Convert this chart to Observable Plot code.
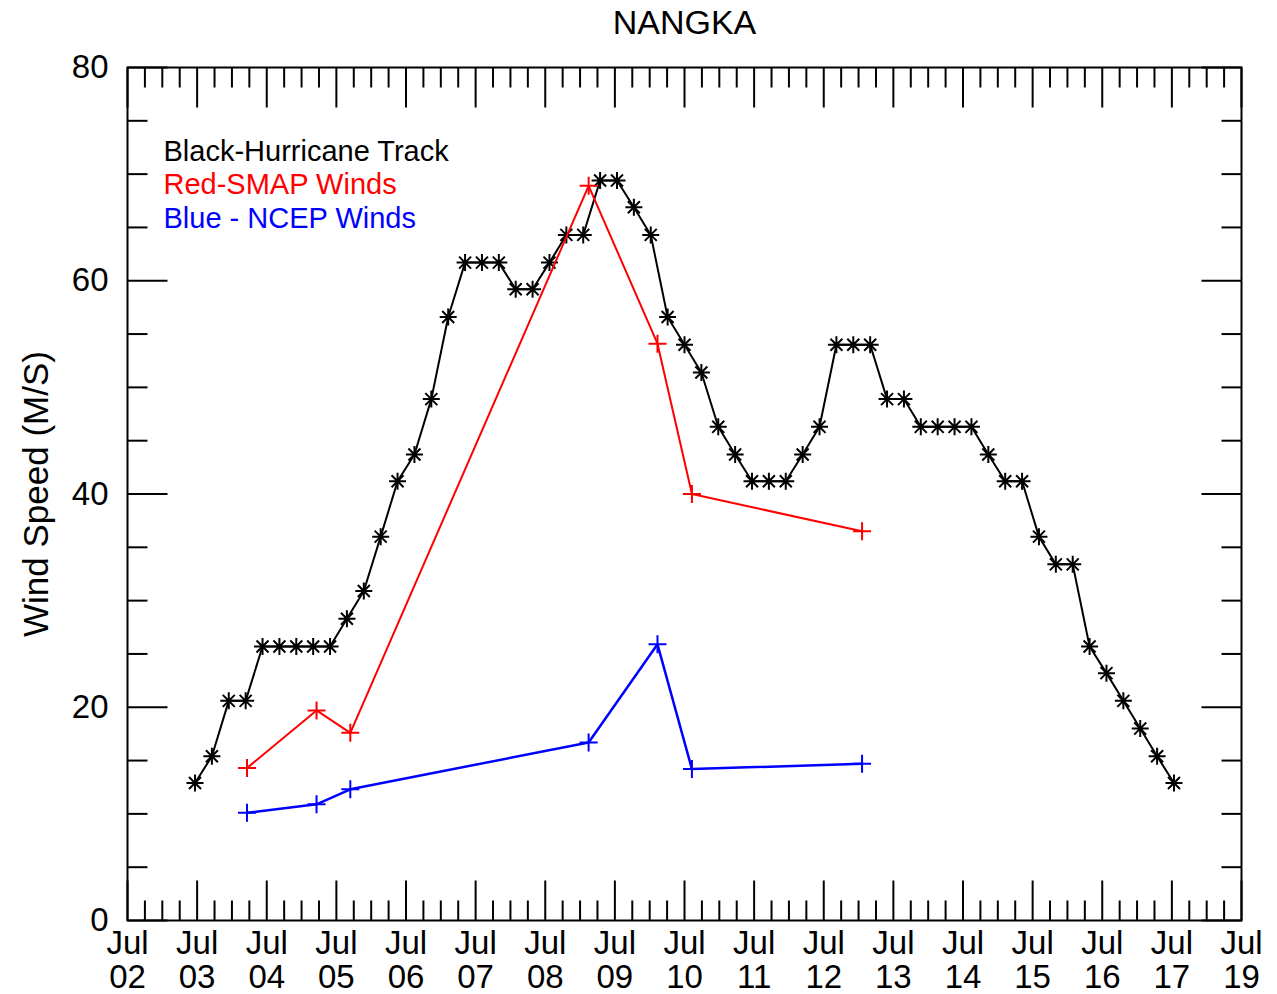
<!DOCTYPE html>
<html>
<head>
<meta charset="utf-8">
<script src="https://cdn.jsdelivr.net/npm/d3@7"></script>
<script src="https://cdn.jsdelivr.net/npm/@observablehq/plot@0.6"></script>
<style>
  html, body { margin: 0; padding: 0; background: #fff; }
  svg { display: block; }
</style>
</head>
<body>
<div id="chart"></div>
<script>
// ---------- chart text ----------
const title = "NANGKA";
const yLabel = "Wind Speed (M/S)";
const legendLabels = ["Black-Hurricane Track", "Red-SMAP Winds", "Blue - NCEP Winds"];
const legendColors = ["#000000", "#ff0000", "#0000ff"];

// ---------- axes ----------
// x = day of July (fractional, UTC); axis spans Jul 02 00Z .. Jul 18 12Z, 16 labelled intervals
const xDomain = [2, 18.5];
const xTickLabels = ["Jul\n02", "Jul\n03", "Jul\n04", "Jul\n05", "Jul\n06", "Jul\n07", "Jul\n08", "Jul\n09",
                     "Jul\n10", "Jul\n11", "Jul\n12", "Jul\n13", "Jul\n14", "Jul\n15", "Jul\n16", "Jul\n17", "Jul\n19"];
const yDomain = [0, 80];
const yTicks = [0, 20, 40, 60, 80];
const yMinorTicks = [5, 10, 15, 25, 30, 35, 45, 50, 55, 65, 70, 75];

// ---------- data ----------
// Hurricane best track (6-hourly), wind speed in m/s
const trackDays = [
  3.00, 3.25, 3.50, 3.75, 4.00, 4.25, 4.50, 4.75, 5.00, 5.25,
  5.50, 5.75, 6.00, 6.25, 6.50, 6.75, 7.00, 7.25, 7.50, 7.75,
  8.00, 8.25, 8.50, 8.75, 9.00, 9.25, 9.50, 9.75, 10.00, 10.25,
  10.50, 10.75, 11.00, 11.25, 11.50, 11.75, 12.00, 12.25, 12.50, 12.75,
  13.00, 13.25, 13.50, 13.75, 14.00, 14.25, 14.50, 14.75, 15.00, 15.25,
  15.50, 15.75, 16.00, 16.25, 16.50, 16.75, 17.00, 17.25, 17.50
];
const trackWind = [
  12.9, 15.4, 20.6, 20.6, 25.7, 25.7, 25.7, 25.7, 25.7, 28.3,
  30.9, 36.0, 41.2, 43.7, 48.9, 56.6, 61.7, 61.7, 61.7, 59.2,
  59.2, 61.7, 64.3, 64.3, 69.4, 69.4, 66.9, 64.3, 56.6, 54.0,
  51.4, 46.3, 43.7, 41.2, 41.2, 41.2, 43.7, 46.3, 54.0, 54.0,
  54.0, 48.9, 48.9, 46.3, 46.3, 46.3, 46.3, 43.7, 41.2, 41.2,
  36.0, 33.4, 33.4, 25.7, 23.2, 20.6, 18.0, 15.4, 12.9
];
// SMAP overpasses
const smapDays = [3.77, 4.80, 5.30, 8.83, 9.85, 10.36, 12.88];
const smapWind = [14.3, 19.7, 17.6, 68.9, 54.1, 40.0, 36.5];
// NCEP at the same times
const ncepDays = [3.77, 4.80, 5.30, 8.83, 9.85, 10.36, 12.88];
const ncepWind = [10.1, 10.9, 12.3, 16.7, 25.9, 14.2, 14.7];

// ---------- tables built from the arrays ----------
const track = trackDays.map((d, i) => ({day: d, wind: trackWind[i]}));
const smap = smapDays.map((d, i) => ({day: d, wind: smapWind[i]}));
const ncep = ncepDays.map((d, i) => ({day: d, wind: ncepWind[i]}));

const span = xDomain[1] - xDomain[0];
const xMajor = xTickLabels.map((_, i) => xDomain[0] + i * span / (xTickLabels.length - 1));
const nMinor = (xTickLabels.length - 1) * 4;
const xMinor = d3.range(nMinor + 1).filter(i => i % 4 !== 0).map(i => xDomain[0] + i * span / nMinor);

// ---------- custom symbols ----------
const lenOf = size => Math.sqrt(size / Math.PI);
const tickSym = (ux, uy) => ({draw(ctx, size) { const L = lenOf(size); ctx.moveTo(0, 0); ctx.lineTo(ux * L, uy * L); }});
const tickUp = tickSym(0, -1), tickDown = tickSym(0, 1), tickRight = tickSym(1, 0), tickLeft = tickSym(-1, 0);
const asterisk = {draw(ctx, size) {
  const r = lenOf(size), d = r * Math.SQRT1_2;
  ctx.moveTo(-r, 0); ctx.lineTo(r, 0);
  ctx.moveTo(0, -r); ctx.lineTo(0, r);
  ctx.moveTo(-d, -d); ctx.lineTo(d, d);
  ctx.moveTo(-d, d); ctx.lineTo(d, -d);
}};
const plus = {draw(ctx, size) {
  const r = lenOf(size);
  ctx.moveTo(-r, 0); ctx.lineTo(r, 0);
  ctx.moveTo(0, -r); ctx.lineTo(0, r);
}};

const FONT = 33;
const tickMarks = [
  Plot.dot(xMajor, {x: d => d, y: () => yDomain[0], symbol: tickUp, r: 40, stroke: "black", strokeWidth: 2, fill: "none"}),
  Plot.dot(xMinor, {x: d => d, y: () => yDomain[0], symbol: tickUp, r: 20, stroke: "black", strokeWidth: 2, fill: "none"}),
  Plot.dot(xMajor, {x: d => d, y: () => yDomain[1], symbol: tickDown, r: 40, stroke: "black", strokeWidth: 2, fill: "none"}),
  Plot.dot(xMinor, {x: d => d, y: () => yDomain[1], symbol: tickDown, r: 20, stroke: "black", strokeWidth: 2, fill: "none"}),
  Plot.dot(yTicks, {y: d => d, x: () => xDomain[0], symbol: tickRight, r: 40, stroke: "black", strokeWidth: 2, fill: "none"}),
  Plot.dot(yMinorTicks, {y: d => d, x: () => xDomain[0], symbol: tickRight, r: 20, stroke: "black", strokeWidth: 2, fill: "none"}),
  Plot.dot(yTicks, {y: d => d, x: () => xDomain[1], symbol: tickLeft, r: 40, stroke: "black", strokeWidth: 2, fill: "none"}),
  Plot.dot(yMinorTicks, {y: d => d, x: () => xDomain[1], symbol: tickLeft, r: 20, stroke: "black", strokeWidth: 2, fill: "none"})
];

const chart = Plot.plot({
  width: 1277,
  height: 994,
  marginTop: 67,
  marginRight: 36,
  marginBottom: 74,
  marginLeft: 127,
  style: {fontFamily: "'Liberation Sans', Arial, Helvetica, sans-serif", background: "#fff", color: "#000", overflow: "visible"},
  x: {type: "linear", domain: xDomain, axis: null},
  y: {type: "linear", domain: yDomain, axis: null},
  marks: [
    ...tickMarks,
    Plot.frame({stroke: "black", strokeWidth: 2}),
    // tick labels
    Plot.text(xTickLabels, {x: (d, i) => xMajor[i], frameAnchor: "bottom", lineAnchor: "top", dy: 9,
      lineHeight: 34 / FONT, fontSize: FONT, fill: "black", textAnchor: "middle"}),
    Plot.text(yTicks, {y: d => d, frameAnchor: "left", textAnchor: "end", lineAnchor: "middle", dx: -19,
      fontSize: FONT, fill: "black", text: d => String(d)}),
    // axis title and chart title
    Plot.text([yLabel], {frameAnchor: "left", rotate: -90, dx: -91, lineAnchor: "middle", textAnchor: "middle", fontSize: 35, fill: "black"}),
    Plot.text([title], {frameAnchor: "top", lineAnchor: "bottom", dy: -34, fontSize: 34, fill: "black"}),
    // legend
    ...legendLabels.map((t, i) => Plot.text([t], {frameAnchor: "top-left", textAnchor: "start", lineAnchor: "bottom",
      dx: 36, dy: 93 + i * 33.5, fontSize: 29, fill: legendColors[i]})),
    // series
    Plot.line(track, {x: "day", y: "wind", stroke: "black", strokeWidth: 2}),
    Plot.dot(track, {x: "day", y: "wind", symbol: asterisk, r: 8.5, stroke: "black", strokeWidth: 2, fill: "none"}),
    Plot.line(smap, {x: "day", y: "wind", stroke: "#ff0000", strokeWidth: 2}),
    Plot.dot(smap, {x: "day", y: "wind", symbol: plus, r: 9, stroke: "#ff0000", strokeWidth: 2, fill: "none"}),
    Plot.line(ncep, {x: "day", y: "wind", stroke: "#0000ff", strokeWidth: 2.5}),
    Plot.dot(ncep, {x: "day", y: "wind", symbol: plus, r: 9, stroke: "#0000ff", strokeWidth: 2, fill: "none"})
  ]
});
document.getElementById("chart").appendChild(chart);
</script>
</body>
</html>
